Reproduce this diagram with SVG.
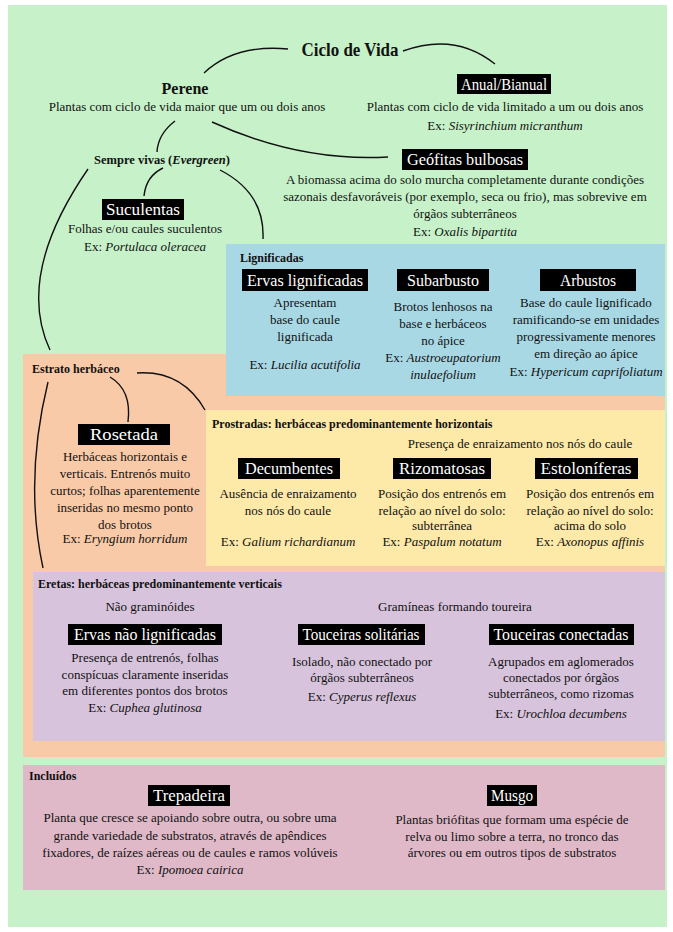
<svg xmlns="http://www.w3.org/2000/svg" width="673" height="932" viewBox="0 0 673 932">
<style>
text{font-family:"Liberation Serif","Times New Roman",serif;fill:#111;}
.t{font-size:13px;text-anchor:middle;}
.h{font-size:12px;font-weight:bold;}
.b{fill:#000;}
.bl{font-size:16.5px;fill:#fff;text-anchor:middle;}
.c{fill:none;stroke:#111;stroke-width:1.4;}
</style>
<rect x="0" y="0" width="673" height="932" fill="#fff"/>
<rect x="8" y="5" width="659" height="922" fill="#c7f1c9"/>
<rect id="estrato-bg" x="23" y="354" width="642" height="403" fill="#f9caa7"/>
<rect id="lign-bg" x="226" y="244" width="439" height="152" fill="#a9d8e5"/>
<rect id="prost-bg" x="206" y="410" width="459" height="156" fill="#fde9a8"/>
<rect id="eretas-bg" x="33" y="572" width="632" height="169" fill="#d7c3dc"/>
<rect id="incl-bg" x="23" y="765" width="642" height="125" fill="#dfb9c8"/>

<g id="connectors">
<path class="c" d="M288,49 Q235,44 204,73"/>
<path class="c" d="M403,51 Q455,32 495,64"/>
<path class="c" d="M175,121 Q158,134 157,152"/>
<path class="c" d="M212,122 Q300,162 388,157"/>
<path class="c" d="M88,169 Q15,275 50,350"/>
<path class="c" d="M163,168 Q146,176 144,196"/>
<path class="c" d="M220,170 Q265,193 263,239"/>
<path class="c" d="M137,373 Q182,370 205,410"/>
<path class="c" d="M110,377 Q132,390 128,422"/>
<path class="c" d="M48,382 Q24,480 43,568"/>
</g>

<g id="ciclo"><text x="350" y="56" textLength="97" lengthAdjust="spacingAndGlyphs" style="font-size:19px;font-weight:bold;text-anchor:middle">Ciclo de Vida</text></g>
<g id="perene">
<text x="185" y="94" style="font-size:16px;font-weight:bold;text-anchor:middle">Perene</text>
<text class="t" x="187" y="111">Plantas com ciclo de vida maior que um ou dois anos</text>
</g>
<g id="anual">
<rect class="b" x="457" y="74" width="94" height="20"/>
<text class="bl" x="504" y="90" textLength="86" lengthAdjust="spacingAndGlyphs">Anual/Bianual</text>
<text class="t" x="505" y="111">Plantas com ciclo de vida limitado a um ou dois anos</text>
<text class="t" x="505" y="130">Ex: <tspan font-style="italic">Sisyrinchium micranthum</tspan></text>
</g>
<g id="geofitas">
<rect class="b" x="402" y="149" width="126" height="21"/>
<text class="bl" x="465" y="165" textLength="116" lengthAdjust="spacingAndGlyphs">Geófitas bulbosas</text>
<text class="t" x="465" y="184">A biomassa acima do solo murcha completamente durante condições</text>
<text class="t" x="465" y="201">sazonais desfavoráveis (por exemplo, seca ou frio), mas sobrevive em</text>
<text class="t" x="465" y="218">órgãos subterrâneos</text>
<text class="t" x="465" y="236">Ex: <tspan font-style="italic">Oxalis bipartita</tspan></text>
</g>
<g id="sempre">
<text x="162" y="164" style="font-size:12.5px;font-weight:bold;text-anchor:middle">Sempre vivas (<tspan font-style="italic">Evergreen</tspan>)</text>
</g>
<g id="suculentas">
<rect class="b" x="102" y="199" width="82" height="21"/>
<text class="bl" x="143" y="215" textLength="74" lengthAdjust="spacingAndGlyphs">Suculentas</text>
<text class="t" x="145" y="233">Folhas e/ou caules suculentos</text>
<text class="t" x="145" y="251">Ex: <tspan font-style="italic">Portulaca oleracea</tspan></text>
</g>

<g id="lignificadas">
<text class="h" x="240" y="262">Lignificadas</text>
</g>
<g id="ervas-lign">
<rect class="b" x="242" y="269" width="126" height="22"/>
<text class="bl" x="305" y="286" textLength="116" lengthAdjust="spacingAndGlyphs">Ervas lignificadas</text>
<text class="t" x="305" y="307">Apresentam</text>
<text class="t" x="305" y="324">base do caule</text>
<text class="t" x="305" y="341">lignificada</text>
<text class="t" x="305" y="369">Ex: <tspan font-style="italic">Lucilia acutifolia</tspan></text>
</g>
<g id="subarbusto">
<rect class="b" x="397" y="269" width="92" height="22"/>
<text class="bl" x="443" y="286" textLength="72" lengthAdjust="spacingAndGlyphs">Subarbusto</text>
<text class="t" x="443" y="311">Brotos lenhosos na</text>
<text class="t" x="443" y="328">base e herbáceos</text>
<text class="t" x="443" y="345">no ápice</text>
<text class="t" x="443" y="362">Ex: <tspan font-style="italic">Austroeupatorium</tspan></text>
<text class="t" x="443" y="379" font-style="italic">inulaefolium</text>
</g>
<g id="arbustos">
<rect class="b" x="540" y="269" width="96" height="22"/>
<text class="bl" x="588" y="286" textLength="56" lengthAdjust="spacingAndGlyphs">Arbustos</text>
<text class="t" x="586" y="307">Base do caule lignificado</text>
<text class="t" x="586" y="324">ramificando-se em unidades</text>
<text class="t" x="586" y="341">progressivamente menores</text>
<text class="t" x="586" y="358">em direção ao ápice</text>
<text class="t" x="586" y="376">Ex: <tspan font-style="italic">Hypericum caprifoliatum</tspan></text>
</g>

<g id="estrato"><text class="h" x="32" y="373">Estrato herbáceo</text></g>
<g id="rosetada">
<rect class="b" x="78" y="424" width="92" height="21"/>
<text class="bl" x="124" y="440" textLength="68" lengthAdjust="spacingAndGlyphs">Rosetada</text>
<text class="t" x="125" y="461">Herbáceas horizontais e</text>
<text class="t" x="125" y="478">verticais. Entrenós muito</text>
<text class="t" x="125" y="495">curtos; folhas aparentemente</text>
<text class="t" x="125" y="512">inseridas no mesmo ponto</text>
<text class="t" x="125" y="529">dos brotos</text>
<text class="t" x="125" y="543">Ex: <tspan font-style="italic">Eryngium horridum</tspan></text>
</g>
<g id="prostradas">
<text class="h" x="212" y="428">Prostradas: herbáceas predominantemente horizontais</text>
<text class="t" x="520" y="448">Presença de enraizamento nos nós do caule</text>
</g>
<g id="decumbentes">
<rect class="b" x="238" y="458" width="102" height="21"/>
<text class="bl" x="289" y="474" textLength="88" lengthAdjust="spacingAndGlyphs">Decumbentes</text>
<text class="t" x="288" y="498">Ausência de enraizamento</text>
<text class="t" x="288" y="515">nos nós do caule</text>
<text class="t" x="288" y="546">Ex: <tspan font-style="italic">Galium richardianum</tspan></text>
</g>
<g id="rizomatosas">
<rect class="b" x="393" y="458" width="98" height="21"/>
<text class="bl" x="442" y="474" textLength="86" lengthAdjust="spacingAndGlyphs">Rizomatosas</text>
<text class="t" x="442" y="498">Posição dos entrenós em</text>
<text class="t" x="442" y="515">relação ao nível do solo:</text>
<text class="t" x="442" y="530">subterrânea</text>
<text class="t" x="442" y="546">Ex: <tspan font-style="italic">Paspalum notatum</tspan></text>
</g>
<g id="estoloniferas">
<rect class="b" x="535" y="458" width="103" height="21"/>
<text class="bl" x="586" y="474" textLength="91" lengthAdjust="spacingAndGlyphs">Estoloníferas</text>
<text class="t" x="590" y="498">Posição dos entrenós em</text>
<text class="t" x="590" y="515">relação ao nível do solo:</text>
<text class="t" x="590" y="530">acima do solo</text>
<text class="t" x="590" y="546">Ex: <tspan font-style="italic">Axonopus affinis</tspan></text>
</g>

<g id="eretas">
<text class="h" x="38" y="588">Eretas: herbáceas predominantemente verticais</text>
<text class="t" x="150" y="611">Não graminóides</text>
<text class="t" x="455" y="611">Gramíneas formando toureira</text>
</g>
<g id="ervas-nao">
<rect class="b" x="68" y="624" width="154" height="21"/>
<text class="bl" x="145" y="640" textLength="142" lengthAdjust="spacingAndGlyphs">Ervas não lignificadas</text>
<text class="t" x="145" y="662">Presença de entrenós, folhas</text>
<text class="t" x="145" y="679">conspícuas claramente inseridas</text>
<text class="t" x="145" y="695">em diferentes pontos dos brotos</text>
<text class="t" x="145" y="712">Ex: <tspan font-style="italic">Cuphea glutinosa</tspan></text>
</g>
<g id="touc-sol">
<rect class="b" x="298" y="624" width="127" height="21"/>
<text class="bl" x="361" y="640" textLength="117" lengthAdjust="spacingAndGlyphs">Touceiras solitárias</text>
<text class="t" x="362" y="666">Isolado, não conectado por</text>
<text class="t" x="362" y="682">órgãos subterrâneos</text>
<text class="t" x="362" y="701">Ex: <tspan font-style="italic">Cyperus reflexus</tspan></text>
</g>
<g id="touc-con">
<rect class="b" x="489" y="624" width="145" height="21"/>
<text class="bl" x="561" y="640" textLength="135" lengthAdjust="spacingAndGlyphs">Touceiras conectadas</text>
<text class="t" x="561" y="666">Agrupados em aglomerados</text>
<text class="t" x="561" y="682">conectados por órgãos</text>
<text class="t" x="561" y="698">subterrâneos, como rizomas</text>
<text class="t" x="561" y="718">Ex: <tspan font-style="italic">Urochloa decumbens</tspan></text>
</g>

<g id="incluidos"><text class="h" x="29" y="780">Incluídos</text></g>
<g id="trepadeira">
<rect class="b" x="148" y="785" width="82" height="21"/>
<text class="bl" x="189" y="801" textLength="72" lengthAdjust="spacingAndGlyphs">Trepadeira</text>
<text class="t" x="190" y="822">Planta que cresce se apoiando sobre outra, ou sobre uma</text>
<text class="t" x="190" y="840">grande variedade de substratos, através de apêndices</text>
<text class="t" x="190" y="857">fixadores, de raízes aéreas ou de caules e ramos volúveis</text>
<text class="t" x="190" y="874">Ex: <tspan font-style="italic">Ipomoea cairica</tspan></text>
</g>
<g id="musgo">
<rect class="b" x="487" y="785" width="50" height="21"/>
<text class="bl" x="512" y="801" textLength="42" lengthAdjust="spacingAndGlyphs">Musgo</text>
<text class="t" x="512" y="824">Plantas briófitas que formam uma espécie de</text>
<text class="t" x="512" y="841">relva ou limo sobre a terra, no tronco das</text>
<text class="t" x="512" y="857">árvores ou em outros tipos de substratos</text>
</g>
</svg>
